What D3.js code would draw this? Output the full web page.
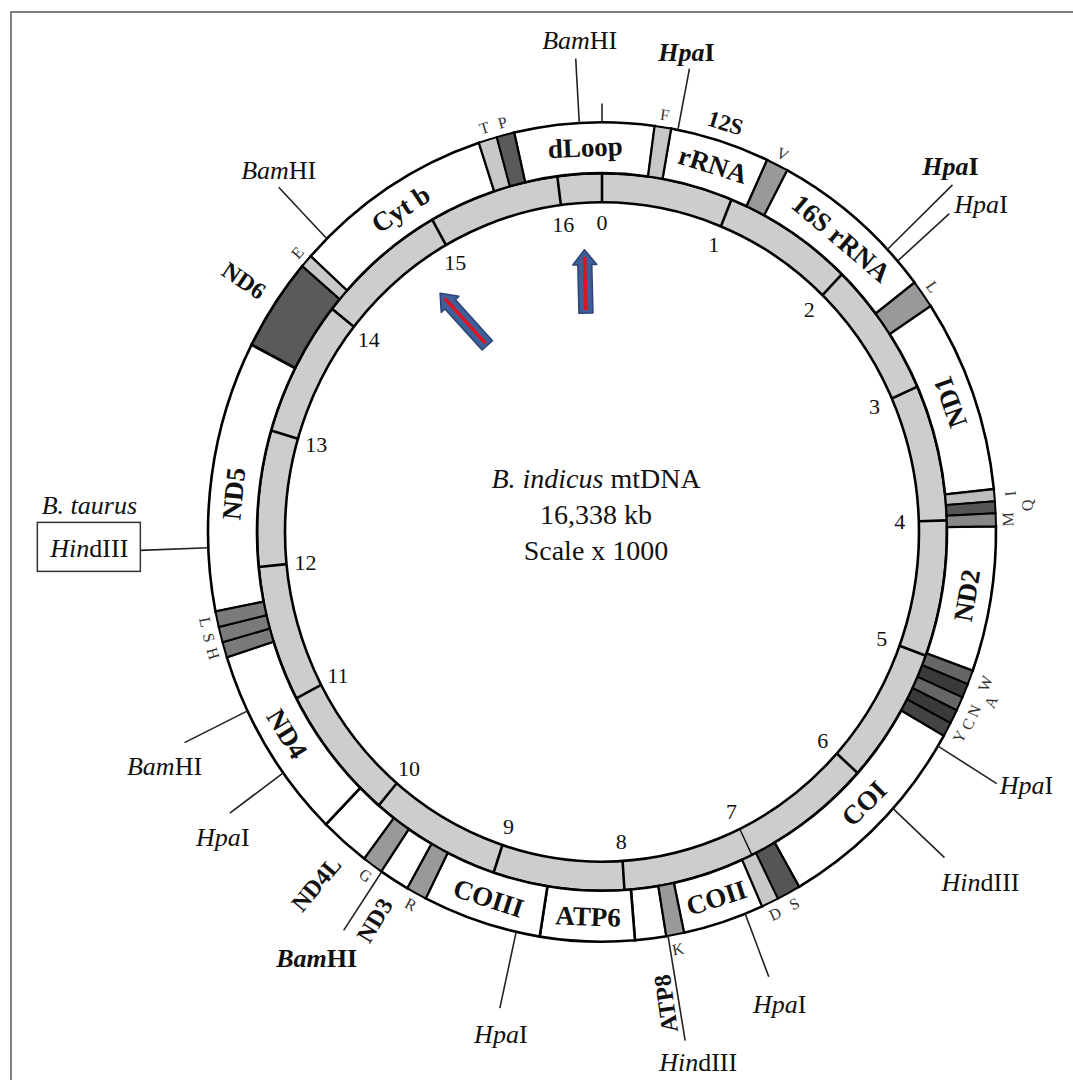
<!DOCTYPE html>
<html>
<head>
<meta charset="utf-8">
<script src="https://cdn.jsdelivr.net/npm/d3@7"></script>
<style>
  body { margin: 0; background: #fff; }
  svg text { font-family: "Liberation Serif", "Times New Roman", serif; fill: #111; }
</style>
</head>
<body>
<svg id="chart" width="1073" height="1080"></svg>
<script>
// genome length (kb) and scale ticks
var genomeLength = 16.338;
var tickValues = d3.range(0, 17);

// genes / regions on the white ring, positions in kb
var geneNames = ["dLoop", "12S rRNA", "16S rRNA", "ND1", "ND2", "COI", "COII", "ATP8",
                 "ATP6", "COIII", "ND3", "ND4L", "ND4", "ND5", "ND6", "Cyt b"];
var geneStart = [15.753, 0.458, 1.271, 2.564, 4.048, 5.437, 7.080, 7.742,
                 7.951, 8.582, 9.512, 9.853, 10.188, 11.745, 13.488, 14.173];
var geneEnd   = [16.687, 1.125, 2.383, 3.812, 4.983, 6.807, 7.624, 7.951,
                 8.582, 9.376, 9.716, 10.188, 11.446, 13.488, 14.091, 15.512];

// tRNA bars
var trnaNames = ["T", "P", "F", "V", "L", "I", "Q", "M", "W", "A", "N", "C", "Y",
                 "S", "D", "K", "R", "G", "H", "S", "L", "E"];
var trnaStart = [15.512, 15.635, 0.349, 1.125, 2.383, 3.812, 3.889, 3.966, 4.983, 5.074, 5.165, 5.255, 5.346,
                 6.807, 6.966, 7.624, 9.376, 9.716, 11.446, 11.545, 11.645, 14.091];
var trnaEnd   = [15.635, 15.753, 0.458, 1.271, 2.564, 3.889, 3.966, 4.048, 5.074, 5.165, 5.255, 5.346, 5.437,
                 6.966, 7.080, 7.742, 9.512, 9.853, 11.545, 11.645, 11.745, 14.173];

// restriction sites
var siteEnzymes = ["BamHI", "HpaI", "HpaI", "HpaI", "HpaI", "HindIII", "HpaI",
                   "HindIII", "HpaI", "BamHI", "HpaI", "BamHI", "HindIII", "BamHI"];
var sitePos = [16.188, 0.504, 2.106, 2.206, 5.514, 6.010, 7.202,
               7.731, 8.740, 9.712, 10.620, 11.079, 12.154, 14.328];

// centre title
var titleLines = [["B. indicus", " mtDNA"], ["", "16,338 kb"], ["", "Scale x 1000"]];

// ---- layout ----
var cx = 602, cy = 532, ky = 1.04;
var rOut = 394, rMid = 345, rIn = 317;

var trnaFill = ["#c8c8c8", "#5a5a5a", "#c8c8c8", "#999", "#999", "#bdbdbd", "#555", "#888",
                "#666", "#3a3a3a", "#666", "#3a3a3a", "#444", "#555", "#c8c8c8", "#999",
                "#999", "#999", "#7a7a7a", "#7a7a7a", "#7a7a7a", "#c8c8c8"];
var trnaLabelR = [406, 406, 406, 406, 406, 410, 426, 406, 410, 422, 410, 410, 408,
                  406, 406, 408, 406, 406, 406, 406, 406, 406];

// gene labels: pos/r override the gene midpoint inside the ring
var geneLabels = [
  {gene: 0, text: "dLoop"},
  {gene: 1, text: "rRNA"},
  {gene: 1, text: "12S", pos: 0.790, r: 412, size: 23},
  {gene: 2, text: "16S rRNA"},
  {gene: 3, text: "ND1"},
  {gene: 4, text: "ND2"},
  {gene: 5, text: "COI"},
  {gene: 6, text: "COII"},
  {gene: 7, text: "ATP8", pos: 7.805, r: 458, mode: "radial", size: 24},
  {gene: 8, text: "ATP6"},
  {gene: 9, text: "COIII"},
  {gene: 10, text: "ND3", pos: 9.590, r: 437, mode: "radial", size: 24},
  {gene: 11, text: "ND4L", pos: 9.992, r: 443, mode: "radial", size: 24},
  {gene: 12, text: "ND4"},
  {gene: 13, text: "ND5", pos: 12.512},
  {gene: 14, text: "ND6", pos: 13.797, r: 432, mode: "radial", size: 24},
  {gene: 15, text: "Cyt b"}
];

// site line end radius and label offset from the line end
var siteLineR = [456, 454, 484, 463, 463, 464, 459, 496, 469, 462, 460, 464, 462, 463];
var siteLabel = [
  {dx: 4, dy: -10}, {dx: -3, dy: -8, bold: true}, {dx: -2, dy: -10, bold: true},
  {dx: 5, dy: -1, anchor: "start"}, {dx: 3, dy: 10, anchor: "start"}, {dx: 36, dy: 33},
  {dx: 11, dy: 36}, {dx: 13, dy: 30}, {dx: 1, dy: 35}, {dx: -27, dy: 37, bold: true},
  {dx: -7, dy: 33}, {dx: -20, dy: 32}, {dx: -51, dy: 7, boxed: "B. taurus"}, {dx: 0, dy: -8}
];

// annotation arrows (kb, radius)
var arrows = [
  {from: [16.14, 211], to: [16.17, 272]},
  {from: [14.859, 213], to: [14.741, 281]}
];

var angle = d3.scaleLinear().domain([0, genomeLength]).range([0, 2 * Math.PI]);
function deg(kb) { var d = (angle(kb) * 180 / Math.PI) % 360; return d < 0 ? d + 360 : d; }
function pt(kb, r) { var a = angle(kb); return [cx + r * Math.sin(a), cy - ky * r * Math.cos(a)]; }
function tanRot(kb) { var d = deg(kb); return (d > 60 && d < 260) ? d - 180 : d; }

var svg = d3.select("#chart");

// frame
svg.append("path").attr("d", "M11,1080V12H1073")
    .attr("fill", "none").attr("stroke", "#555").attr("stroke-width", 1.5);

var ring = svg.append("g")
    .attr("transform", "translate(" + cx + "," + cy + ") scale(1," + ky + ")");
var arc = d3.arc();

// grey scale ring
ring.append("path")
    .attr("d", arc({innerRadius: rIn, outerRadius: rMid, startAngle: 0, endAngle: 2 * Math.PI}))
    .attr("fill", "#cdcdcd").attr("stroke", "#000").attr("stroke-width", 2.6)
    .attr("vector-effect", "non-scaling-stroke");

// genes
ring.selectAll(".gene").data(geneNames).enter().append("path")
    .attr("class", "gene")
    .attr("d", function(d, i) {
      return arc({innerRadius: rMid, outerRadius: rOut,
                  startAngle: angle(geneStart[i]), endAngle: angle(geneEnd[i])});
    })
    .attr("fill", function(d) { return d === "ND6" ? "#5a5a5a" : "#fff"; })
    .attr("stroke", "#000").attr("stroke-width", 2.6)
    .attr("vector-effect", "non-scaling-stroke");

// tRNAs
ring.selectAll(".trna").data(trnaNames).enter().append("path")
    .attr("class", "trna")
    .attr("d", function(d, i) {
      return arc({innerRadius: rMid, outerRadius: rOut,
                  startAngle: angle(trnaStart[i]), endAngle: angle(trnaEnd[i])});
    })
    .attr("fill", function(d, i) { return trnaFill[i]; })
    .attr("stroke", "#000").attr("stroke-width", 2)
    .attr("vector-effect", "non-scaling-stroke");

// scale ticks
ring.selectAll(".tick").data(tickValues).enter().append("line")
    .attr("x1", function(d) { return rIn * Math.sin(angle(d)); })
    .attr("y1", function(d) { return -rIn * Math.cos(angle(d)); })
    .attr("x2", function(d) { return rMid * Math.sin(angle(d)); })
    .attr("y2", function(d) { return -rMid * Math.cos(angle(d)); })
    .attr("stroke", "#000")
    .attr("stroke-width", function(d) { return d === 7 ? 1.3 : 2.6; })
    .attr("vector-effect", "non-scaling-stroke");

svg.selectAll(".ticklabel").data(tickValues).enter().append("text")
    .attr("x", function(d) { return pt(d, 298)[0]; })
    .attr("y", function(d) { return pt(d, 298)[1]; })
    .attr("text-anchor", "middle").attr("dominant-baseline", "central")
    .attr("font-size", 22)
    .text(function(d) { return d; });

// origin mark
var o0 = pt(0, rOut), o1 = pt(0, 412);
svg.append("line").attr("x1", o0[0]).attr("y1", o0[1]).attr("x2", o1[0]).attr("y2", o1[1])
    .attr("stroke", "#222").attr("stroke-width", 1.6);

// tRNA letters
svg.selectAll(".trnalabel").data(trnaNames).enter().append("text")
    .attr("transform", function(d, i) {
      var m = (trnaStart[i] + trnaEnd[i]) / 2, p = pt(m, trnaLabelR[i]);
      return "translate(" + p[0] + "," + p[1] + ") rotate(" + tanRot(m) + ")";
    })
    .attr("text-anchor", "middle").attr("dominant-baseline", "central")
    .attr("font-size", 16).style("fill", "#333")
    .text(function(d) { return d; });

// gene labels
svg.selectAll(".genelabel").data(geneLabels).enter().append("text")
    .attr("transform", function(d) {
      var m = d.pos != null ? d.pos : (geneStart[d.gene] + geneEnd[d.gene]) / 2;
      var p = pt(m, d.r || 370);
      var rot = d.mode === "radial" ? deg(m) - 270 : tanRot(m);
      return "translate(" + p[0] + "," + p[1] + ") rotate(" + rot + ")";
    })
    .attr("text-anchor", "middle").attr("dominant-baseline", "central")
    .attr("font-size", function(d) { return d.size || 27; })
    .attr("font-weight", "bold")
    .text(function(d) { return d.text; });

// restriction sites
siteEnzymes.forEach(function(name, i) {
  var a = pt(sitePos[i], rOut), b = pt(sitePos[i], siteLineR[i]);
  var L = siteLabel[i];
  svg.append("line").attr("x1", a[0]).attr("y1", a[1]).attr("x2", b[0]).attr("y2", b[1])
      .attr("stroke", "#222").attr("stroke-width", 1.6);
  var t = svg.append("text")
      .attr("x", b[0] + L.dx).attr("y", b[1] + L.dy)
      .attr("text-anchor", L.anchor || "middle")
      .attr("font-size", 26)
      .attr("font-weight", L.bold ? "bold" : "normal");
  t.append("tspan").attr("font-style", "italic").text(name.slice(0, 3));
  t.append("tspan").text(name.slice(3));
  if (L.boxed) {
    svg.append("rect").attr("x", b[0] - 103).attr("y", b[1] - 28)
        .attr("width", 103).attr("height", 49)
        .attr("fill", "none").attr("stroke", "#333").attr("stroke-width", 1.5);
    svg.append("text").attr("x", b[0] + L.dx).attr("y", b[1] - 36)
        .attr("text-anchor", "middle").attr("font-size", 26).attr("font-style", "italic")
        .text(L.boxed);
  }
});

// centre title
titleLines.forEach(function(line, i) {
  var t = svg.append("text").attr("x", 596).attr("y", 488 + i * 36)
      .attr("text-anchor", "middle").attr("font-size", 28);
  if (line[0]) t.append("tspan").attr("font-style", "italic").text(line[0]);
  t.append("tspan").text(line[1]);
});

// annotation arrows
arrows.forEach(function(ar) {
  var p0 = pt(ar.from[0], ar.from[1]), p1 = pt(ar.to[0], ar.to[1]);
  var dx = p1[0] - p0[0], dy = p1[1] - p0[1], len = Math.sqrt(dx * dx + dy * dy);
  var ux = dx / len, uy = dy / len, nx = -uy, ny = ux;
  var w = 7, hw = 12, hl = 15;
  var local = [[0, -w], [len - hl, -w], [len - hl, -hw], [len, 0], [len - hl, hw], [len - hl, w], [0, w]];
  var pts = local.map(function(q) {
    return [p0[0] + ux * q[0] + nx * q[1], p0[1] + uy * q[0] + ny * q[1]];
  });
  svg.append("path").attr("d", d3.line()(pts) + "Z")
      .attr("fill", "#3f5f99").attr("stroke", "#2c4475").attr("stroke-width", 1.5)
      .attr("stroke-linejoin", "round");
  svg.append("line")
      .attr("x1", p0[0] + ux * 3).attr("y1", p0[1] + uy * 3)
      .attr("x2", p1[0] - ux * 7).attr("y2", p1[1] - uy * 7)
      .attr("stroke", "#e0141e").attr("stroke-width", 3.5);
});
</script>
</body>
</html>
